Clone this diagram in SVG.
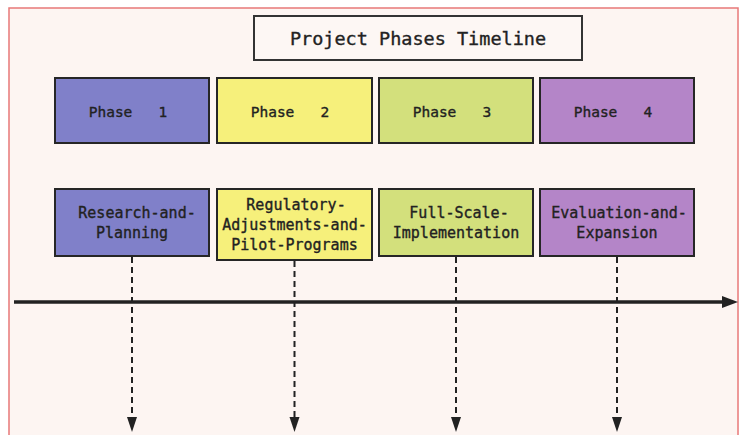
<svg xmlns="http://www.w3.org/2000/svg" width="742" height="435" viewBox="0 0 742 435">
  <defs>
    <style>
      .box { stroke: #262626; stroke-width: 2; }
      .t { font-family: "DejaVu Sans Mono", "Liberation Mono", monospace; fill: #222; stroke: #222; stroke-width: 0.35; text-anchor: middle; }
      .ph { font-size: 14.5px; }
      .ds { font-size: 15px; }
      .title { font-size: 18.5px; }
      .dash { stroke: #222; stroke-width: 2; stroke-dasharray: 6 4; fill: none; }
      .axis { stroke: #222; stroke-width: 3.5; fill: none; }
      .head { fill: #222; }
    </style>
  </defs>
  <rect x="0" y="0" width="742" height="435" fill="#ffffff"/>
  <rect x="9" y="8" width="729" height="440" fill="#fdf5f2" stroke="#e87878" stroke-width="1.5"/>

  <g id="title">
    <rect x="254" y="16" width="328" height="44" fill="#fdf7f4" stroke="#333" stroke-width="2"/>
    <text class="t title" x="418" y="45">Project Phases Timeline</text>
  </g>

  <g id="phase1">
    <rect class="box" x="55" y="78" width="154" height="65" fill="#8080c9"/>
    <text class="t ph" x="128" y="117" xml:space="preserve">Phase   1</text>
  </g>
  <g id="phase2">
    <rect class="box" x="217" y="78" width="155" height="65" fill="#f6f07b"/>
    <text class="t ph" x="290" y="117" xml:space="preserve">Phase   2</text>
  </g>
  <g id="phase3">
    <rect class="box" x="379" y="78" width="154" height="65" fill="#d3e07c"/>
    <text class="t ph" x="452" y="117" xml:space="preserve">Phase   3</text>
  </g>
  <g id="phase4">
    <rect class="box" x="540" y="78" width="154" height="65" fill="#b485c8"/>
    <text class="t ph" x="613" y="117" xml:space="preserve">Phase   4</text>
  </g>

  <g id="task1">
    <rect class="box" x="55" y="189" width="154" height="67" fill="#8080c9"/>
    <text class="t ds" x="137" y="218">Research-and-</text>
    <text class="t ds" x="132" y="238">Planning</text>
  </g>
  <g id="task2">
    <rect class="box" x="217" y="189" width="155" height="71" fill="#f6f07b"/>
    <text class="t ds" x="296" y="210">Regulatory-</text>
    <text class="t ds" x="294.5" y="230">Adjustments-and-</text>
    <text class="t ds" x="294.5" y="250">Pilot-Programs</text>
  </g>
  <g id="task3">
    <rect class="box" x="379" y="189" width="154" height="67" fill="#d3e07c"/>
    <text class="t ds" x="459" y="218">Full-Scale-</text>
    <text class="t ds" x="456" y="238">Implementation</text>
  </g>
  <g id="task4">
    <rect class="box" x="540" y="189" width="154" height="67" fill="#b485c8"/>
    <text class="t ds" x="619" y="218">Evaluation-and-</text>
    <text class="t ds" x="617" y="238">Expansion</text>
  </g>

  <g id="connectors">
    <line class="axis" x1="14" y1="302" x2="724" y2="302"/>
    <path d="M722,296 L738,302 L722,308 Z" fill="#222"/>
    <line class="dash" x1="132" y1="257" x2="132" y2="418"/>
    <path class="head" d="M127,417 L137,417 L132,432 Z"/>
    <line class="dash" x1="294.5" y1="261" x2="294.5" y2="418"/>
    <path class="head" d="M289.5,417 L299.5,417 L294.5,432 Z"/>
    <line class="dash" x1="456" y1="257" x2="456" y2="418"/>
    <path class="head" d="M451,417 L461,417 L456,432 Z"/>
    <line class="dash" x1="617" y1="257" x2="617" y2="418"/>
    <path class="head" d="M612,417 L622,417 L617,432 Z"/>
  </g>
</svg>
